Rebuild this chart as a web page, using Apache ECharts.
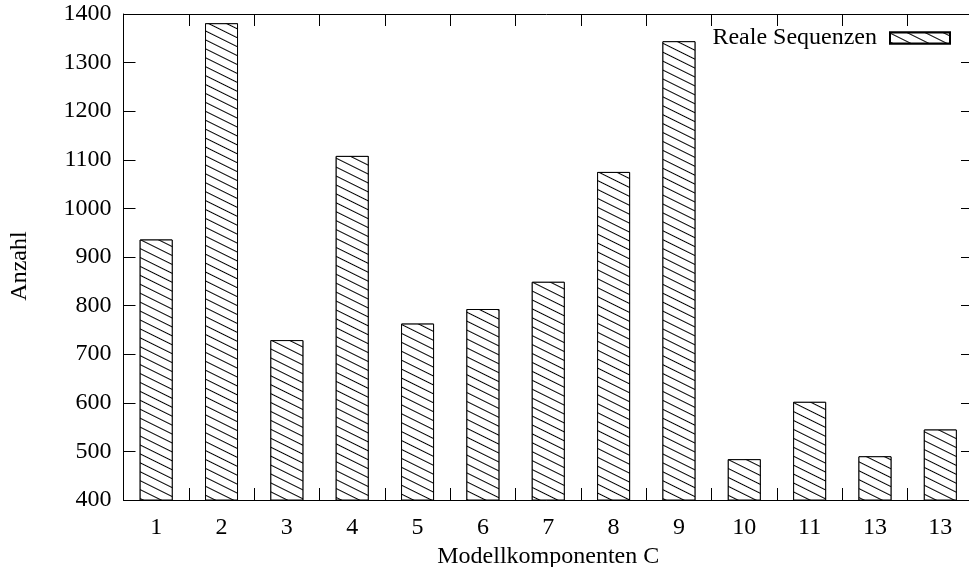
<!DOCTYPE html>
<html>
<head>
<meta charset="utf-8">
<script src="https://cdn.jsdelivr.net/npm/echarts@6/dist/echarts.min.js"></script>
<style>
html,body{margin:0;padding:0;background:#fff;}
#c{width:969px;height:567px;}
</style>
</head>
<body>
<div id="c"></div>
<script>
var categories = ['1','2','3','4','5','6','7','8','9','10','11','13','13'];
var values = [936, 1381, 729, 1108, 763, 793, 849, 1075, 1344, 484, 602, 490, 545];
var seriesName = 'Reale Sequenzen';
var yTicks = {min: 400, max: 1400, interval: 100};
var xTitle = 'Modellkomponenten C';
var yTitle = 'Anzahl';

var FONT = 'Liberation Serif';
var chart = echarts.init(document.getElementById('c'), null, {renderer: 'canvas'});
var axisLine = {show: true, lineStyle: {color: '#000', width: 1}};
var hatch = {
  symbol: 'rect',
  symbolSize: 1,
  color: '#000',
  backgroundColor: '#fff',
  dashArrayX: [1, 0],
  dashArrayY: [1, 6.7],
  rotation: 0.46
};
chart.setOption({
  animation: false,
  backgroundColor: '#fff',
  textStyle: {fontFamily: FONT},
  grid: {left: 123.5, top: 14, right: -4, bottom: 67, containLabel: false, outerBoundsMode: 'none'},
  legend: {
    data: [seriesName],
    right: 13,
    top: 21,
    align: 'right',
    icon: 'rect',
    itemWidth: 60,
    itemHeight: 11,
    textStyle: {fontSize: 24, fontFamily: FONT, color: '#000', padding: [0, 8, 0, 0]}
  },
  xAxis: [{
    type: 'category',
    data: categories,
    position: 'bottom',
    boundaryGap: true,
    axisLine: axisLine,
    axisTick: {show: true, inside: true, length: 12, alignWithLabel: false, lineStyle: {color: '#000'}},
    axisLabel: {fontSize: 24, fontFamily: FONT, color: '#000', margin: 16, interval: 0},
    splitLine: {show: false},
    name: xTitle,
    nameLocation: 'middle',
    nameGap: 34,
    nameTextStyle: {fontSize: 24, fontFamily: FONT, color: '#000'}
  }, {
    type: 'category',
    data: categories,
    position: 'top',
    boundaryGap: true,
    axisLine: axisLine,
    axisTick: {show: true, inside: true, length: 12, lineStyle: {color: '#000'}},
    axisLabel: {show: false},
    splitLine: {show: false}
  }],
  yAxis: [{
    type: 'value',
    position: 'left',
    min: yTicks.min,
    max: yTicks.max,
    interval: yTicks.interval,
    axisLine: axisLine,
    axisTick: {show: true, inside: true, length: 12, lineStyle: {color: '#000'}},
    axisLabel: {fontSize: 24, fontFamily: FONT, color: '#000', margin: 12, formatter: function (v) { return String(v); }},
    splitLine: {show: false},
    name: yTitle,
    nameLocation: 'middle',
    nameGap: 92,
    nameRotate: 90,
    nameTextStyle: {fontSize: 24, fontFamily: FONT, color: '#000', padding: [0, 18, 0, 0]}
  }, {
    type: 'value',
    position: 'right',
    min: yTicks.min,
    max: yTicks.max,
    interval: yTicks.interval,
    axisLine: axisLine,
    axisTick: {show: true, inside: true, length: 12, lineStyle: {color: '#000'}},
    axisLabel: {show: false},
    splitLine: {show: false}
  }],
  series: [{
    name: seriesName,
    type: 'bar',
    xAxisIndex: 0,
    yAxisIndex: 0,
    data: values,
    barWidth: 33,
    itemStyle: {color: '#fff', borderColor: '#000', borderWidth: 1, decal: hatch}
  }]
});
</script>
</body>
</html>
